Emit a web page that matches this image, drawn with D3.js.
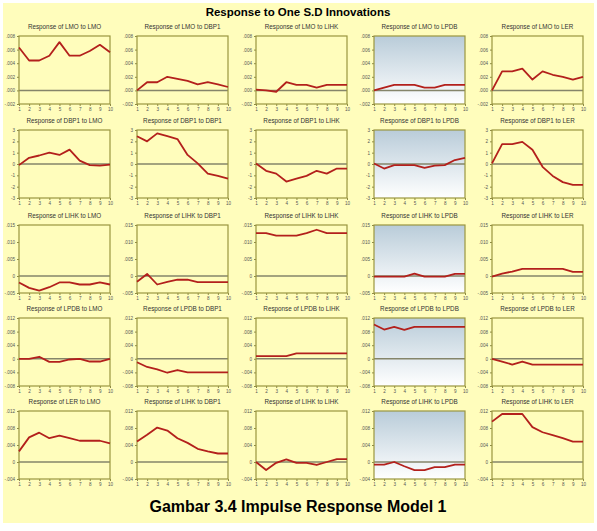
<!DOCTYPE html>
<html>
<head>
<meta charset="utf-8">
<script src="https://cdn.jsdelivr.net/npm/d3@7"></script>
<style>
  body { margin: 0; background: #fff; }
  svg { display: block; font-family: Arial, "Liberation Sans", sans-serif; }
</style>
</head>
<body>
<div id="chart"></div>
<script>
// impulse horizon
var steps = [1, 2, 3, 4, 5, 6, 7, 8, 9, 10];

// panel titles, row by row
var titles = [
  ["Response of LMO to LMO", "Response of LMO to DBP1", "Response of LMO to LIHK", "Response of LMO to LPDB", "Response of LMO to LER"],
  ["Response of DBP1 to LMO", "Response of DBP1 to DBP1", "Response of DBP1 to LIHK", "Response of DBP1 to LPDB", "Response of DBP1 to LER"],
  ["Response of LIHK to LMO", "Response of LIHK to DBP1", "Response of LIHK to LIHK", "Response of LIHK to LPDB", "Response of LIHK to LER"],
  ["Response of LPDB to LMO", "Response of LPDB to DBP1", "Response of LPDB to LIHK", "Response of LPDB to LPDB", "Response of LPDB to LER"],
  ["Response of LER to LMO", "Response of LIHK to DBP1", "Response of LIHK to LIHK", "Response of LIHK to LPDB", "Response of LIHK to LER"]
];

// y axis per row
var yDomains = [[-0.002, 0.008], [-3, 3], [-0.005, 0.015], [-0.008, 0.012], [-0.004, 0.012]];
var yTicks = [
  [-0.002, 0, 0.002, 0.004, 0.006, 0.008],
  [-3, -2, -1, 0, 1, 2, 3],
  [-0.005, 0, 0.005, 0.010, 0.015],
  [-0.008, -0.004, 0, 0.004, 0.008, 0.012],
  [-0.004, 0, 0.004, 0.008, 0.012]
];
var yLabels = [
  ["-.002", ".000", ".002", ".004", ".006", ".008"],
  ["-3", "-2", "-1", "0", "1", "2", "3"],
  ["-.005", "0", ".005", ".010", ".015"],
  ["-.008", "-.004", "0", ".004", ".008", ".012"],
  ["-.004", "0", ".004", ".008", ".012"]
];

// responses of LMO
var lmoRow = [
  [.0063, .0044, .0044, .0051, .0071, .0051, .0051, .0058, .0067, .0056],
  [0, .0012, .0012, .0020, .0017, .0014, .0009, .0012, .0009, .0005],
  [.0001, 0, -.0002, .0012, .0008, .0008, .0004, .0008, .0008, .0008],
  [0, .0004, .0008, .0008, .0008, .0004, .0004, .0008, .0008, .0008],
  [0, .0028, .0028, .0032, .0016, .0028, .0023, .0020, .0016, .0020]
];
// responses of DBP1
var dbp1Row = [
  [-0.1, 0.55, 0.75, 1.0, 0.8, 1.27, 0.3, -0.1, -0.15, -0.05],
  [2.45, 2.0, 2.7, 2.45, 2.2, 0.8, 0.05, -0.85, -1.05, -1.3],
  [0.05, -0.6, -0.85, -1.55, -1.3, -1.05, -0.6, -0.85, -0.4, -0.4],
  [0.05, -0.4, -0.1, -0.1, -0.1, -0.35, -0.15, -0.1, 0.35, 0.55],
  [0.05, 1.75, 1.75, 1.95, 1.25, -0.25, -1.05, -1.6, -1.85, -1.85]
];
// responses of LIHK
var lihkRow = [
  [-.0019, -.0035, -.0043, -.0033, -.0019, -.0019, -.0025, -.0025, -.0019, -.0025],
  [-.0017, .0006, -.0025, -.0017, -.0011, -.0011, -.0018, -.0018, -.0018, -.0018],
  [.0126, .0126, .0119, .0119, .0119, .0126, .0136, .0126, .0126, .0126],
  [-.0002, -.0002, -.0002, -.0002, .0007, -.0002, -.0002, -.0002, .0006, .0006],
  [-.0002, .0007, .0013, .0021, .0021, .0021, .0021, .0021, .0012, .0012]
];
// responses of LPDB
var lpdbRow = [
  [0, 0, .0006, -.0009, -.0009, -.0002, 0, -.0008, -.0008, 0],
  [-.0010, -.0024, -.0031, -.0041, -.0033, -.0040, -.0040, -.0040, -.0040, -.0040],
  [.0008, .0008, .0008, .0008, .0016, .0016, .0016, .0016, .0016, .0016],
  [.0101, .0086, .0094, .0085, .0094, .0094, .0094, .0094, .0094, .0094],
  [0, -.0008, -.0017, -.0008, -.0017, -.0017, -.0017, -.0017, -.0017, -.0017]
];
// last row
var lerRow = [
  [.0025, .0058, .0069, .0056, .0062, .0056, .0050, .0050, .0050, .0044],
  [.0048, .0064, .0081, .0074, .0056, .0045, .0031, .0025, .0020, .0020],
  [0, -.0019, -.0002, .0006, -.0002, -.0002, -.0007, 0, .0007, .0007],
  [-.0006, -.0006, 0, -.0010, -.0019, -.0019, -.0012, -.0012, -.0006, -.0006],
  [.0095, .0113, .0113, .0113, .0082, .0070, .0063, .0056, .0048, .0048]
];

var rows = [lmoRow, dbp1Row, lihkRow, lpdbRow, lerRow];

var W = 597, H = 531;
var svg = d3.select("#chart").append("svg").attr("width", W).attr("height", H);

var defs = svg.append("defs");
var grad = defs.append("linearGradient").attr("id", "blueGrad")
  .attr("x1", 0).attr("y1", 0).attr("x2", 0).attr("y2", 1);
grad.append("stop").attr("offset", "0%").attr("stop-color", "#b9ccd9");
grad.append("stop").attr("offset", "100%").attr("stop-color", "#ffffff");

// page background
svg.append("rect").attr("x", 3).attr("y", 3).attr("width", 591).attr("height", 520)
  .attr("fill", "#fffdbc");

svg.append("text").attr("x", 298).attr("y", 16)
  .attr("text-anchor", "middle").attr("font-size", 11.5).attr("font-weight", "bold")
  .text("Response to One S.D Innovations");

svg.append("text").attr("x", 298).attr("y", 512)
  .attr("text-anchor", "middle").attr("font-size", 16).attr("font-weight", "bold")
  .text("Gambar 3.4 Impulse Response Model 1");

var colLeft = [19, 137, 256, 374, 492];
var rowTop = [36, 130, 225, 318, 411];
var pw = 91, ph = 68;

rows.forEach(function(rowData, r) {
  rowData.forEach(function(vals, c) {
    var g = svg.append("g")
      .attr("transform", "translate(" + colLeft[c] + "," + rowTop[r] + ")");

    var x = d3.scaleLinear().domain([1, 10]).range([0, pw]);
    var y = d3.scaleLinear().domain(yDomains[r]).range([ph, 0]);

    g.append("rect").attr("width", pw).attr("height", ph)
      .attr("fill", c == 3 ? "url(#blueGrad)" : "#fffdbc");

    g.append("text").attr("x", pw / 2).attr("y", -7)
      .attr("text-anchor", "middle").attr("font-size", 6.3).attr("fill", "#333")
      .text(titles[r][c]);

    // zero line
    g.append("line").attr("x1", 0).attr("x2", pw)
      .attr("y1", y(0)).attr("y2", y(0))
      .attr("stroke", "#85856a").attr("stroke-width", 1.5);

    var yAxis = d3.axisLeft(y).tickValues(yTicks[r]).tickSize(2).tickPadding(2)
      .tickFormat(function(d, i) { return yLabels[r][i]; });
    var xAxis = d3.axisBottom(x).tickValues(steps).tickSize(2).tickPadding(1.5)
      .tickFormat(d3.format("d"));

    var ya = g.append("g").call(yAxis);
    var xa = g.append("g").attr("transform", "translate(0," + ph + ")").call(xAxis);
    [ya, xa].forEach(function(a) {
      a.select(".domain").remove();
      a.selectAll("line").attr("stroke", "#8d8a45");
      a.selectAll("text").attr("font-size", 4.6).attr("fill", "#555")
        .attr("font-family", "Arial, sans-serif");
    });

    g.append("rect").attr("width", pw).attr("height", ph)
      .attr("fill", "none").attr("stroke", "#9a9640").attr("stroke-width", 1.2);

    var line = d3.line()
      .x(function(d, i) { return x(steps[i]); })
      .y(function(d) { return y(d); });

    g.append("path").datum(vals).attr("d", line)
      .attr("fill", "none").attr("stroke", "#b3201c").attr("stroke-width", 1.8)
      .attr("stroke-linejoin", "round");
  });
});
</script>
</body>
</html>
